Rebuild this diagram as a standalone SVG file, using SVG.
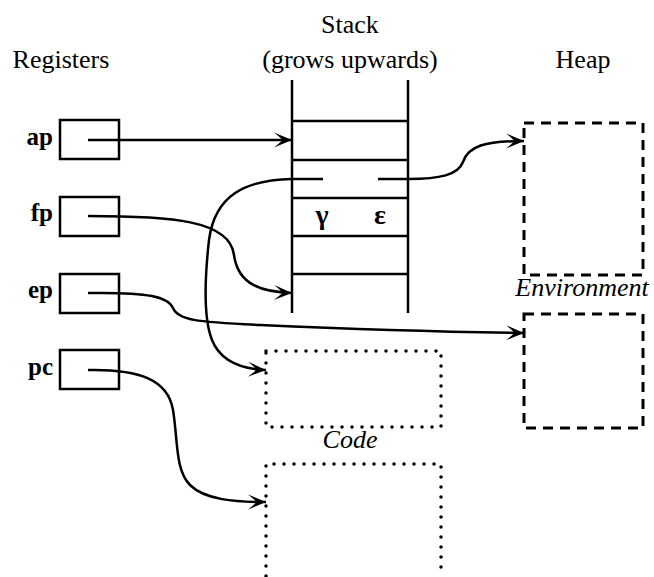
<svg xmlns="http://www.w3.org/2000/svg" width="654" height="577" viewBox="0 0 654 577">
<style>
.t{font-family:"Liberation Serif","Times New Roman",serif;font-size:26px;fill:#000}
.b{font-weight:bold;font-size:25px}
.i{font-style:italic}
.g{font-weight:bold;font-size:28px}
.box{fill:none;stroke:#000;stroke-width:2.5}
.dash{fill:none;stroke:#000;stroke-width:3;stroke-dasharray:10 7}
.dot{fill:none;stroke:#000;stroke-width:3.5;stroke-linecap:round;stroke-dasharray:0 10}
.ln{fill:none;stroke:#000;stroke-width:2.5}
.c{fill:none;stroke:#000;stroke-width:2.5}
.a{marker-end:url(#ah)}
</style>
<defs>
<marker id="ah" markerWidth="22" markerHeight="18" viewBox="-20 -9 22 18" refX="0" refY="0" orient="auto" markerUnits="userSpaceOnUse">
<path d="M0,0 L-18,-7.5 Q-10,-1.2 -10,0 Q-10,1.2 -18,7.5 Z" fill="#000"/>
</marker>
</defs>
<g id="headings">
<text class="t" x="350" y="33" text-anchor="middle">Stack</text>
<text class="t" x="350" y="68" text-anchor="middle">(grows upwards)</text>
<text class="t" x="61" y="68" text-anchor="middle">Registers</text>
<text class="t" x="583" y="68" text-anchor="middle">Heap</text>
</g>
<g id="reg-ap"><text class="t b" x="53" y="145" text-anchor="end">ap</text><rect class="box" x="60" y="120" width="59" height="39"/></g>
<g id="reg-fp"><text class="t b" x="53" y="221" text-anchor="end">fp</text><rect class="box" x="60" y="197" width="59" height="39"/></g>
<g id="reg-ep"><text class="t b" x="53" y="298" text-anchor="end">ep</text><rect class="box" x="60" y="274" width="59" height="39"/></g>
<g id="reg-pc"><text class="t b" x="53" y="375" text-anchor="end">pc</text><rect class="box" x="60" y="350" width="59" height="39"/></g>
<g id="stack">
<line class="ln" x1="292" y1="80" x2="292" y2="313"/>
<line class="ln" x1="408" y1="80" x2="408" y2="313"/>
<line class="ln" x1="292" y1="121" x2="408" y2="121"/>
<line class="ln" x1="292" y1="160" x2="408" y2="160"/>
<line class="ln" x1="292" y1="198" x2="408" y2="198"/>
<line class="ln" x1="292" y1="236" x2="408" y2="236"/>
<line class="ln" x1="292" y1="274" x2="408" y2="274"/>
<text class="t g" x="322" y="224" text-anchor="middle">γ</text>
<text class="t g" x="380" y="224" text-anchor="middle">ε</text>
</g>
<g id="heap-1"><rect class="dash" x="524" y="123" width="119" height="152"/></g>
<g id="heap-env"><text class="t i" x="582" y="296" text-anchor="middle">Environment</text><rect class="dash" x="524" y="314" width="119" height="114"/></g>
<g id="code-1"><rect class="dot" x="266" y="351" width="175" height="76"/></g>
<g id="code-2"><text class="t i" x="350" y="448" text-anchor="middle">Code</text><path class="dot" d="M266,576 V464 H441 V576"/></g>
<g id="connectors">
<path class="c a" d="M88,140 H292"/>
<path class="c a" d="M88,216 C170,216 230,220 234,255 C238,285 262,292 292,293"/>
<path class="c a" d="M88,293 C150,292 168,297 173,308 C178,320 195,322 260,325 C350,329 450,332 524,333"/>
<path class="c a" d="M88,370 C140,369 168,380 173,410 C178,440 175,470 190,485 C205,500 235,502 266,502"/>
<path class="c a" d="M323,179 L292,179 C245,180 215,195 209,240 C204,285 204,320 212,340 C220,360 240,369 266,370"/>
<path class="c a" d="M378,179 L408,179 C440,179 458,175 463,162 C468,146 485,141 524,141"/>
</g>
</svg>
